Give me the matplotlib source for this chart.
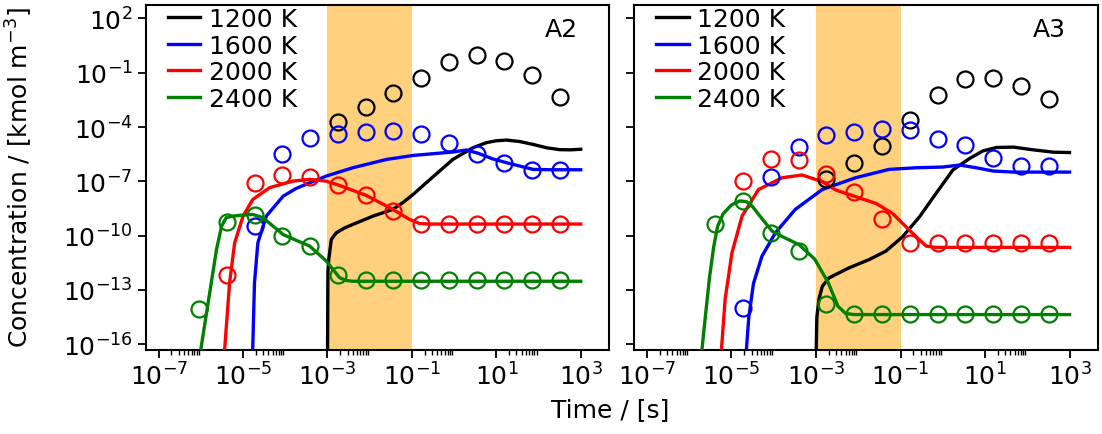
import numpy as np
import matplotlib
matplotlib.use("Agg")
import matplotlib.pyplot as plt
from matplotlib.ticker import FixedLocator, LogFormatterSciNotation, NullFormatter

# ---------------- data (log10 values) ----------------
temperatures = ["1200 K", "1600 K", "2000 K", "2400 K"]
colors = ["black", "blue", "red", "green"]

# marker times (log10 s)
marker_t_exp = [-6.045, -5.387, -4.729, -4.071, -3.413, -2.755, -2.097,
                -1.439, -0.781, -0.123, 0.535, 1.193, 1.851, 2.509]

# ---- A2 markers (first index into marker_t_exp, then log10 concentration)
a2_m_1200_start = 5
a2_m_1200 = [-3.70, -2.87, -2.10, -1.27, -0.43, -0.01, -0.35, -1.14, -2.32]
a2_m_1600_start = 2
a2_m_1600 = [-9.48, -5.51, -4.62, -4.36, -4.28, -4.24, -4.36, -4.90, -5.51, -5.97, -6.38, -6.38]
a2_m_2000_start = 1
a2_m_2000 = [-12.15, -7.08, -6.67, -6.74, -7.23, -7.78, -8.65, -9.33, -9.33, -9.33, -9.33, -9.33, -9.33]
a2_m_2400_start = 0
a2_m_2400 = [-14.05, -9.26, -8.87, -10.03, -10.58, -12.15, -12.43, -12.43, -12.43, -12.43,
             -12.43, -12.43, -12.43, -12.43]

# ---- A3 markers
a3_m_1200_start = 5
a3_m_1200 = [-6.89, -5.97, -5.05, -3.61, -2.23, -1.36, -1.31, -1.73, -2.47]
a3_m_1600_start = 2
a3_m_1600 = [-13.99, -6.77, -5.11, -4.46, -4.28, -4.13, -4.18, -4.64, -4.99, -5.73, -6.16, -6.16]
a3_m_2000_start = 2
a3_m_2000 = [-6.99, -5.75, -5.83, -6.62, -7.60, -9.07, -10.40, -10.40, -10.40, -10.40, -10.40, -10.40]
a3_m_2400_start = 1
a3_m_2400 = [-9.38, -8.09, -9.84, -10.86, -13.76, -14.33, -14.33, -14.33, -14.33, -14.33,
             -14.33, -14.33, -14.33]

# ---- A2 model curves (log10 t, log10 c)
a2_1200_t = [-3.0, -2.99, -2.97, -2.91, -2.79, -2.60, -2.40, -1.92, -1.45, -1.2, -0.97, -0.66,
             -0.03, 0.45, 0.77, 1.0, 1.24, 1.55, 1.87, 2.2, 2.5, 2.75, 3.0]
a2_1200_c = [-17.0, -12.0, -11.32, -10.21, -9.84, -9.58, -9.38, -8.92, -8.55, -8.15, -7.72, -7.08,
             -5.79, -5.14, -4.86, -4.76, -4.72, -4.80, -4.96, -5.15, -5.25, -5.26, -5.23]
a2_1600_t = [-4.78, -4.73, -4.65, -4.45, -4.05, -3.75, -3.42, -3.03, -2.40, -1.60, -0.97, -0.03,
             0.29, 0.57, 0.9, 1.24, 1.87, 2.3, 3.0]
a2_1600_c = [-17.0, -12.61, -10.4, -8.92, -7.82, -7.4, -7.08, -6.71, -6.25, -5.79, -5.57, -5.38,
             -5.27, -5.45, -5.75, -5.97, -6.34, -6.36, -6.36]
a2_2000_t = [-5.46, -5.32, -5.20, -5.00, -4.77, -4.37, -3.82, -3.42, -3.03, -2.71, -2.08, -1.45,
             -1.05, -0.82, -0.6, 3.0]
a2_2000_c = [-17.0, -12.61, -10.4, -8.92, -8.0, -7.35, -6.99, -6.89, -6.99, -7.23, -7.78, -8.55,
             -9.11, -9.33, -9.36, -9.36]
a2_2400_t = [-6.05, -5.63, -5.51, -5.40, -5.24, -5.00, -4.77, -4.53, -4.05, -3.70, -3.42, -3.03,
             -2.71, -2.55, -2.40, 3.0]
a2_2400_c = [-17.0, -10.77, -9.48, -9.01, -8.92, -8.86, -8.83, -9.01, -9.94, -10.3, -10.58, -11.4,
             -12.33, -12.48, -12.52, -12.52]

# ---- A3 model curves
a3_1200_t = [-3.0, -2.98, -2.93, -2.85, -2.69, -2.22, -1.74, -1.35, -0.95, -0.55, -0.16, 0.24,
             0.64, 0.95, 1.27, 1.67, 2.14, 2.62, 3.0]
a3_1200_c = [-17.0, -14.5, -13.5, -12.8, -12.33, -11.78, -11.32, -10.86, -10.06, -8.96, -7.67, -6.37,
             -5.73, -5.32, -5.13, -5.11, -5.26, -5.39, -5.41]
a3_1600_t = [-4.67, -4.59, -4.48, -4.28, -3.96, -3.49, -2.85, -2.06, -1.27, -0.63, 0.0, 0.40,
             0.79, 1.19, 1.67, 3.0]
a3_1600_c = [-17.0, -14.49, -12.65, -11.14, -9.84, -8.55, -7.45, -6.80, -6.34, -6.25, -6.21, -6.10,
             -6.25, -6.43, -6.49, -6.49]
a3_2000_t = [-5.26, -5.15, -4.99, -4.75, -4.36, -3.80, -3.33, -2.85, -2.53, -2.06, -1.58, -1.19,
             -0.87, -0.63, -0.39, -0.16, 3.0]
a3_2000_c = [-17.0, -13.5, -10.95, -8.92, -7.45, -6.80, -6.65, -7.02, -7.48, -7.85, -8.22, -8.77,
             -9.51, -10.06, -10.58, -10.65, -10.65]
a3_2400_t = [-5.73, -5.62, -5.52, -5.42, -5.33, -5.2, -5.0, -4.8, -4.65, -4.5, -4.3, -4.04, -3.8,
             -3.4, -3.03, -2.71, -2.48, -2.3, -2.1, 3.0]
a3_2400_c = [-17.0, -14.5, -12.3, -10.6, -9.5, -8.8, -8.3, -8.08, -8.12, -8.4, -9.0, -9.75, -10.05,
             -10.5, -11.3, -12.6, -13.9, -14.3, -14.36, -14.36]

shade_range = (1e-3, 1e-1)
panel_labels = ["A2", "A3"]

# ---------------- figure ----------------
plt.rcParams["font.family"] = ["DejaVu Sans"]
FS = 18
fig = plt.figure(figsize=(11.02, 4.35), dpi=100)
ax1 = fig.add_axes([0.1325, 0.1938, 0.4205, 0.7924])
ax2 = fig.add_axes([0.5756, 0.1938, 0.4210, 0.7924], sharey=ax1)

panels = [
    (ax1,
     [(a2_1200_t, a2_1200_c), (a2_1600_t, a2_1600_c), (a2_2000_t, a2_2000_c), (a2_2400_t, a2_2400_c)],
     [(a2_m_1200_start, a2_m_1200), (a2_m_1600_start, a2_m_1600),
      (a2_m_2000_start, a2_m_2000), (a2_m_2400_start, a2_m_2400)]),
    (ax2,
     [(a3_1200_t, a3_1200_c), (a3_1600_t, a3_1600_c), (a3_2000_t, a3_2000_c), (a3_2400_t, a3_2400_c)],
     [(a3_m_1200_start, a3_m_1200), (a3_m_1600_start, a3_m_1600),
      (a3_m_2000_start, a3_m_2000), (a3_m_2400_start, a3_m_2400)]),
]

mt = 10.0 ** np.array(marker_t_exp)
major_x = [1e-7, 1e-5, 1e-3, 1e-1, 1e1, 1e3]
minor_x = [m * d for d in [1e-7, 1e-5, 1e-3, 1e-1, 1e1] for m in range(2, 10)]
major_y = [1e-16, 1e-13, 1e-10, 1e-7, 1e-4, 1e-1, 1e2]

for i, (ax, curves, markers) in enumerate(panels):
    ax.set_xscale("log")
    ax.set_yscale("log")
    ax.axvspan(*shade_range, color="orange", alpha=0.5, lw=0, zorder=0)
    for (t, c), col, lab in zip(curves, colors, temperatures):
        ax.plot(10.0 ** np.array(t), 10.0 ** np.array(c), color=col, lw=2.4, label=lab, zorder=3,
                solid_joinstyle="round")
    for (s, vals), col in zip(markers, colors):
        ax.plot(mt[s:s + len(vals)], 10.0 ** np.array(vals), linestyle="none", marker="o",
                ms=11.5, mfc="none", mec=col, mew=1.6, zorder=4)
    ax.set_xlim(10 ** -7.3, 10 ** 3.68)
    ax.set_ylim(10 ** -16.3, 10 ** 2.74)
    ax.xaxis.set_major_locator(FixedLocator(major_x))
    ax.xaxis.set_minor_locator(FixedLocator(minor_x))
    ax.xaxis.set_major_formatter(LogFormatterSciNotation())
    ax.xaxis.set_minor_formatter(NullFormatter())
    ax.yaxis.set_major_locator(FixedLocator(major_y))
    ax.yaxis.set_minor_locator(FixedLocator([]))
    ax.yaxis.set_major_formatter(LogFormatterSciNotation())
    ax.tick_params(axis="both", which="major", labelsize=FS, length=6, width=1.3)
    ax.tick_params(axis="both", which="minor", length=3.5, width=1.0)
    for sp in ax.spines.values():
        sp.set_linewidth(1.5)
    ax.text(0.931, 0.930, panel_labels[i], transform=ax.transAxes, ha="right", va="center",
            fontsize=FS)
    ax.legend(loc="upper left", bbox_to_anchor=(0.047, 0.994), borderaxespad=0, borderpad=0,
              frameon=False, fontsize=FS, handlelength=1.3, handletextpad=0.35,
              labelspacing=0.1)

plt.setp(ax2.get_yticklabels(), visible=False)
fig.text(0.0181, 0.591, "Concentration / [kmol m$^{-3}$]", rotation=90, ha="center", va="center",
         fontsize=FS)
fig.text(0.5535, 0.057, "Time / [s]", ha="center", va="center", fontsize=FS)

fig.savefig("out.png", dpi=100)
